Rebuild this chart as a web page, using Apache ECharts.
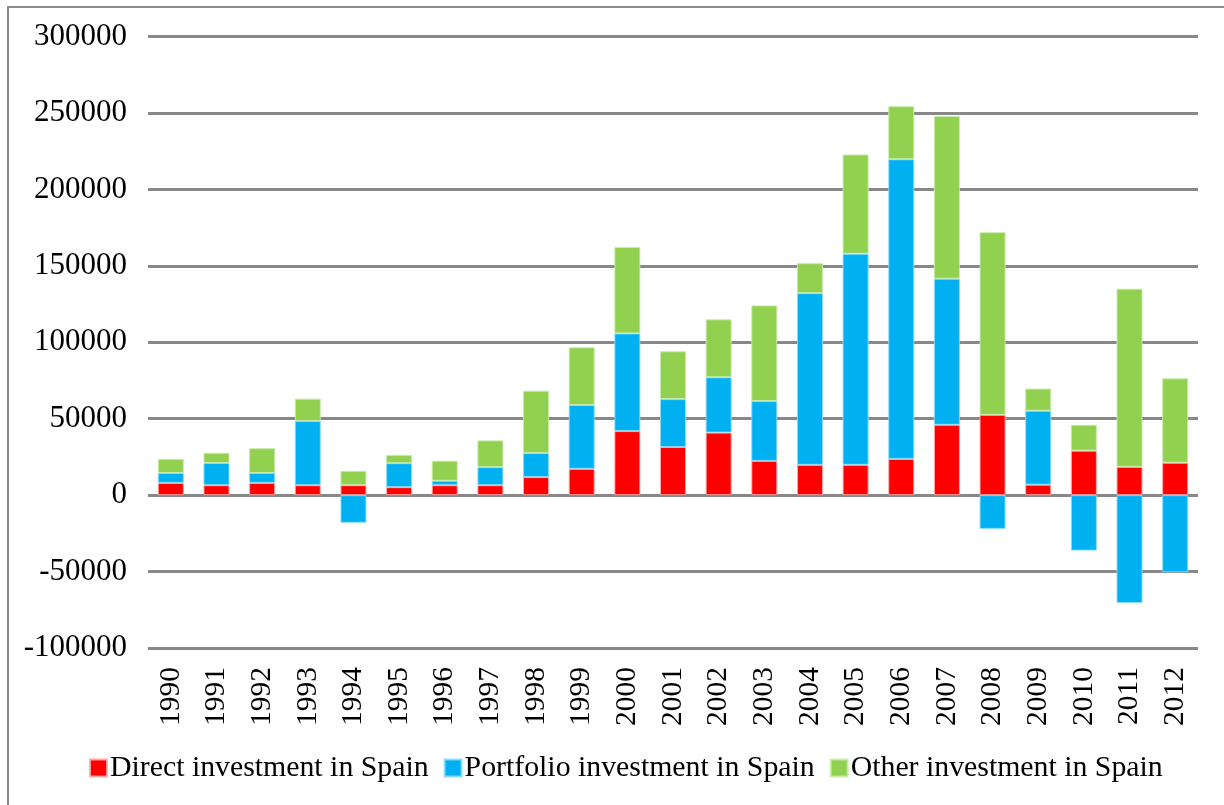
<!DOCTYPE html>
<html>
<head>
<meta charset="utf-8">
<script src="https://cdn.jsdelivr.net/npm/echarts@6/dist/echarts.min.js"></script>
<style>
  html, body { margin: 0; padding: 0; background: #ffffff; }
  #chart { width: 1224px; height: 805px; }
</style>
</head>
<body>
<div id="chart"></div>
<script>
// Foreign investment flows into Spain, 1990-2012
const years = ['1990','1991','1992','1993','1994','1995','1996','1997','1998','1999','2000','2001',
               '2002','2003','2004','2005','2006','2007','2008','2009','2010','2011','2012'];
const directInvestment = [8000, 6500, 8000, 6500, 6500, 5200, 6500, 6500, 11800, 17200, 41900, 31500,
                          40900, 22400, 19800, 19800, 23700, 46000, 52500, 6800, 29100, 18500, 21200];
const portfolioInvestment = [6500, 14500, 6500, 42000, -18100, 15700, 2900, 11800, 15700, 41700, 63900, 31300,
                             36200, 39100, 112300, 138100, 196000, 95600, -22100, 48400, -36300, -70600, -50500];
const otherInvestment = [9200, 6700, 16200, 14600, 9400, 5400, 13100, 17500, 40800, 37800, 56500, 31300,
                         37900, 62600, 19600, 64900, 34700, 106400, 119500, 14500, 16900, 116500, 55200];
const seriesNames = ['Direct investment in Spain', 'Portfolio investment in Spain', 'Other investment in Spain'];
const yMin = -100000, yMax = 300000, yStep = 50000;

const FONT = 'Liberation Serif';
const chart = echarts.init(document.getElementById('chart'), null, { renderer: 'canvas' });

function barSeries(name, data, color, edge) {
  return {
    name: name,
    type: 'bar',
    stack: 'total',
    data: data,
    barWidth: 26,
    itemStyle: { color: color, borderColor: edge, borderWidth: 1 },
    emphasis: { disabled: true }
  };
}

chart.setOption({
  animation: false,
  backgroundColor: '#ffffff',
  textStyle: { fontFamily: FONT, color: '#000' },
  graphic: [{
    type: 'rect',
    shape: { x: 8, y: 7, width: 1260, height: 840 },
    style: { fill: 'none', stroke: '#8c8c8c', lineWidth: 2 },
    silent: true
  }],
  grid: { left: 148, right: 26, top: 36.5, bottom: 157, containLabel: false },
  legend: {
    left: 89,
    top: 753,
    padding: 0,
    itemWidth: 17,
    itemHeight: 17,
    itemGap: 15,
    icon: 'rect',
    selectedMode: false,
    textStyle: { fontFamily: FONT, fontSize: 29.8, color: '#000', padding: [0, 0, 0, -2] },
    data: seriesNames
  },
  xAxis: {
    type: 'category',
    data: years,
    axisLine: { show: false, onZero: false },
    axisTick: { show: false },
    axisLabel: {
      rotate: 90,
      margin: 19,
      interval: 0,
      fontFamily: FONT,
      fontSize: 29.5,
      color: '#000'
    }
  },
  yAxis: {
    type: 'value',
    min: yMin,
    max: yMax,
    interval: yStep,
    axisLine: { show: false },
    axisTick: { show: false },
    axisLabel: {
      margin: 21,
      fontFamily: FONT,
      fontSize: 31,
      color: '#000',
      formatter: function (v) { return String(v); }
    },
    splitLine: { lineStyle: { color: '#888888', width: 3 } }
  },
  series: [
    barSeries(seriesNames[0], directInvestment, '#ff0000', 'rgba(255,170,170,0.9)'),
    barSeries(seriesNames[1], portfolioInvestment, '#00b0f0', 'rgba(140,220,250,0.9)'),
    barSeries(seriesNames[2], otherInvestment, '#92d050', 'rgba(200,235,170,0.9)')
  ]
});
</script>
</body>
</html>
